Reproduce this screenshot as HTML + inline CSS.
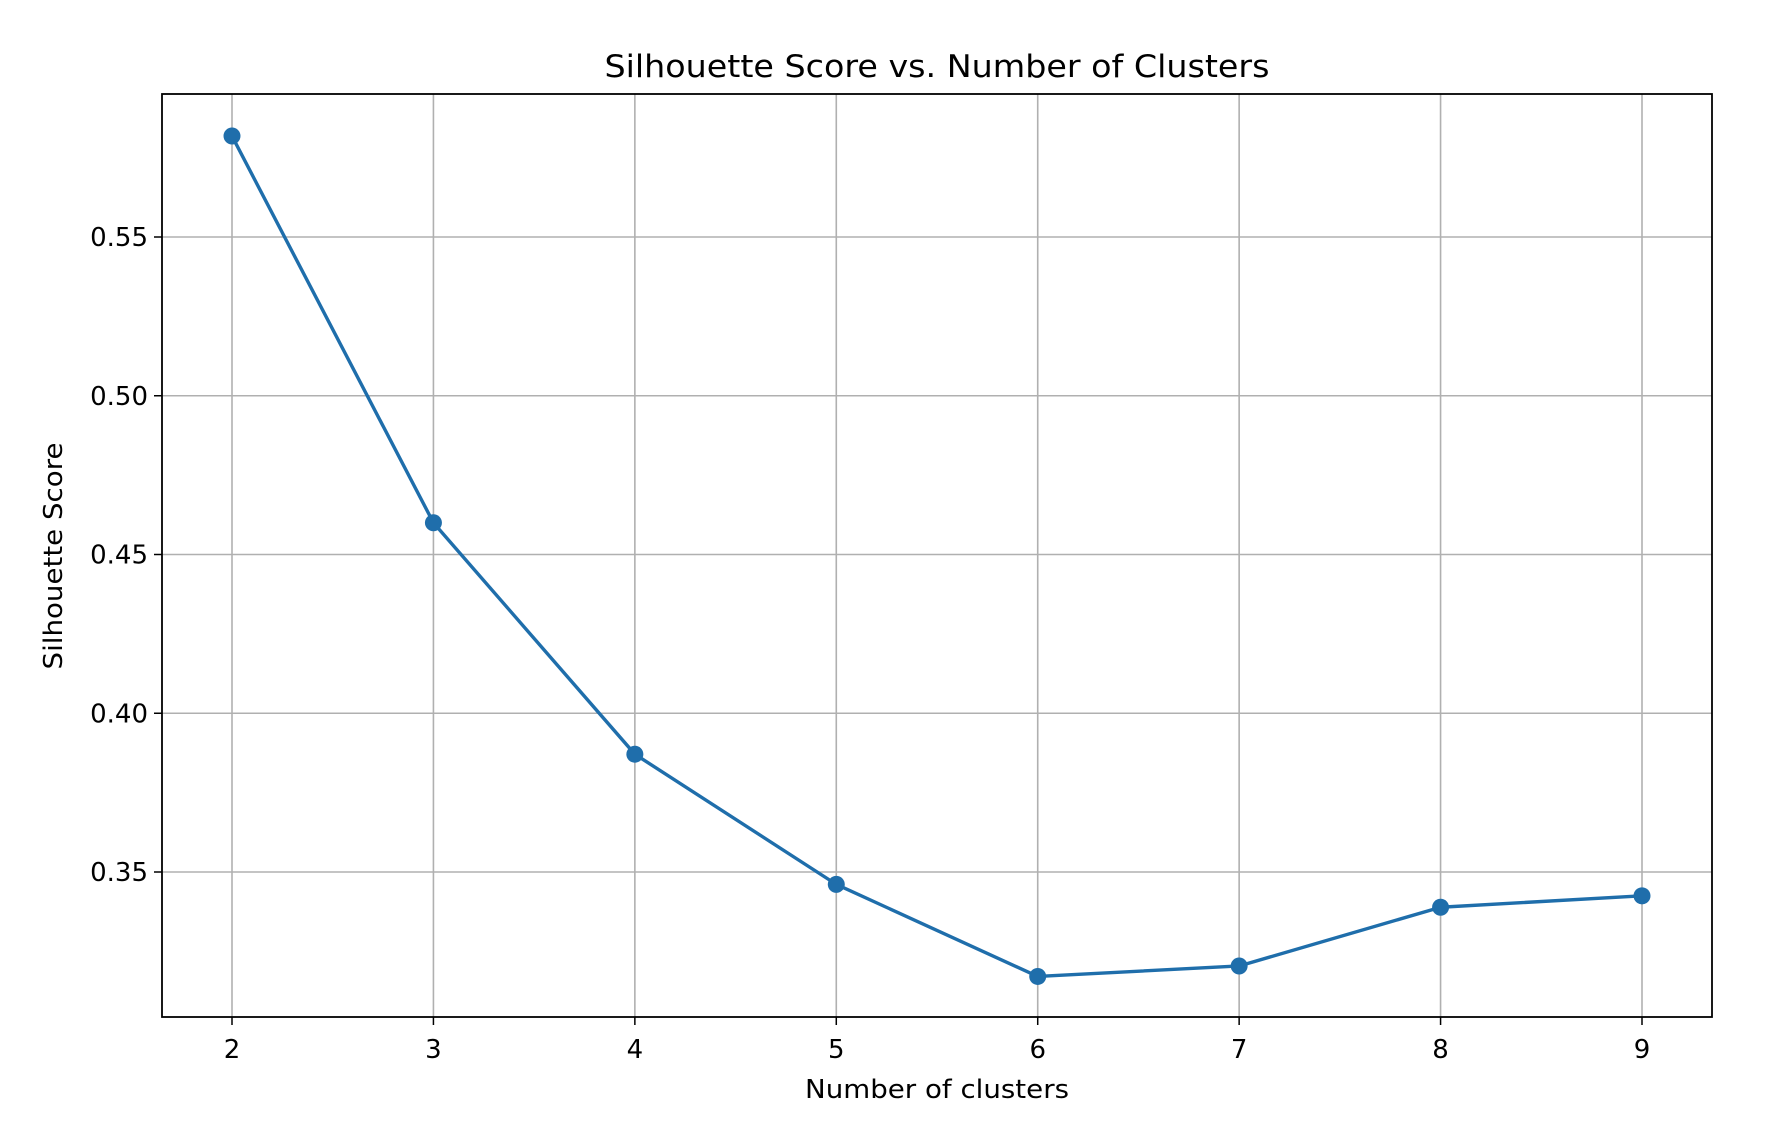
<!DOCTYPE html>
<html><head><meta charset="utf-8"><style>
html,body{margin:0;padding:0;background:#fff;}
svg{display:block;font-family:"DejaVu Sans","Liberation Sans",sans-serif;}
</style></head><body>
<svg id="chart" width="1778" height="1134" viewBox="0 0 1778 1134">
<rect width="1778" height="1134" fill="#fff"/>
<text x="937" y="77" text-anchor="middle" font-size="31" textLength="665" lengthAdjust="spacingAndGlyphs" fill="#000">Silhouette Score vs. Number of Clusters</text>
<g id="grid"></g>
<g id="ticks"></g>
<rect x="162" y="94" width="1550" height="923" fill="none" stroke="#000" stroke-width="1.8"/>
<g id="series"></g>
<text x="937" y="1098" text-anchor="middle" font-size="26" textLength="264" lengthAdjust="spacingAndGlyphs" fill="#000">Number of clusters</text>
<text transform="translate(62,556) rotate(-90)" text-anchor="middle" font-size="26" textLength="227" lengthAdjust="spacingAndGlyphs" fill="#000">Silhouette Score</text>
</svg>
<script>
const clusters = [2,3,4,5,6,7,8,9];
const scores = [0.5818,0.4600,0.3871,0.3461,0.3171,0.3204,0.3389,0.3425];
const yTicks = [0.35,0.40,0.45,0.50,0.55];
const yTickLabels = ["0.35","0.40","0.45","0.50","0.55"];

const NS="http://www.w3.org/2000/svg";
const L=162,R=1712,T=94,B=1017;
const px2=232,px9=1642,py55=237,py35=872;
function X(v){return px2+(v-2)/7*(px9-px2);}
function Y(v){return py35-(v-0.35)/0.2*(py35-py55);}
function mk(tag,attrs,parent){const e=document.createElementNS(NS,tag);for(const k in attrs)e.setAttribute(k,attrs[k]);parent.appendChild(e);return e;}
const grid=document.getElementById('grid'),ticks=document.getElementById('ticks'),series=document.getElementById('series');
clusters.forEach(c=>{
  const x=X(c);
  const g=mk('line',{x1:x,x2:x,y1:T,y2:B,stroke:'#b0b0b0','stroke-width':1.6},grid);
  
  
  const t=mk('line',{x1:x,x2:x,y1:B,y2:B+8,stroke:'#000','stroke-width':1.5},ticks);
  
  
  const lb=mk('text',{x:x,y:B+41,'text-anchor':'middle','font-size':26,fill:'#000'},ticks);
  lb.textContent=c;
  
  
});
yTicks.forEach((v,i)=>{
  const y=Y(v);
  const g=mk('line',{x1:L,x2:R,y1:y,y2:y,stroke:'#b0b0b0','stroke-width':1.6},grid);
  
  
  const t=mk('line',{x1:L-8,x2:L,y1:y,y2:y,stroke:'#000','stroke-width':1.5},ticks);
  
  
  const lb=mk('text',{x:L-14,y:y+9,'text-anchor':'end','font-size':26,fill:'#000'},ticks);
  lb.textContent=yTickLabels[i];
  
  
});
const pts=clusters.map((c,i)=>X(c)+','+Y(scores[i])).join(' ');
const line=mk('polyline',{points:pts,fill:'none',stroke:'#1f6eab','stroke-width':3.4,'stroke-linejoin':'round'},series);


clusters.forEach((c,i)=>{
  const p=mk('circle',{cx:X(c),cy:Y(scores[i]),r:8.5,fill:'#1f6eab'},series);
  
  
});
</script>
</body></html>
